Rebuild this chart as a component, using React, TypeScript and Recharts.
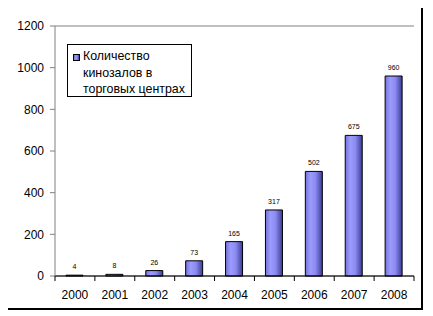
import React from "react";
import { BarChart, Bar, XAxis, YAxis, CartesianGrid, Legend, LabelList } from "recharts";

const years = ["2000", "2001", "2002", "2003", "2004", "2005", "2006", "2007", "2008"];
const cinemas = [4, 8, 26, 73, 165, 317, 502, 675, 960];
const yTicks = [0, 200, 400, 600, 800, 1000, 1200];
const seriesName = "Количество кинозалов в торговых центрах";
const legendLines = ["Количество", "кинозалов в", "торговых центрах"];

const data = years.map((y, i) => ({ year: y, value: cinemas[i] }));

const W = 433;
const H = 316;
const M = { top: 26, right: 19, bottom: 10, left: 5 };
const Y_W = 50;
const X_H = 30;
const PLOT_W = W - M.left - M.right - Y_W;
const FONT = "'Liberation Sans', Arial, sans-serif";

const XTick = (props: any) => {
  const { x, y, payload, index } = props;
  const band = PLOT_W / years.length;
  return (
    <g>
      <line x1={x - band / 2} x2={x - band / 2} y1={y} y2={y + 5} stroke="#000" />
      {index === years.length - 1 && (
        <line x1={x + band / 2} x2={x + band / 2} y1={y} y2={y + 5} stroke="#000" />
      )}
      <text x={x} y={y + 19} textAnchor="middle" dominantBaseline="central" fontSize={12} fontFamily={FONT} fill="#000">
        {payload.value}
      </text>
    </g>
  );
};

const LegendBox = () => (
  <div
    style={{
      border: "1px solid #000",
      background: "#fff",
      width: 125,
      height: 53,
      boxSizing: "border-box",
      position: "relative",
      fontFamily: FONT,
      fontSize: 12.4,
      color: "#000",
    }}
    title={seriesName}
  >
    <div
      style={{
        position: "absolute",
        left: 5,
        top: 9,
        width: 7,
        height: 7,
        border: "1px solid #000",
        background: "linear-gradient(to right, #7070d8, #9a9aff 35%, #8888ee 65%, #40409a)",
        boxSizing: "border-box",
      }}
    />
    <div style={{ position: "absolute", left: 15, top: 3, lineHeight: "16.5px", whiteSpace: "nowrap" }}>
      {legendLines.map((l) => (
        <div key={l}>{l}</div>
      ))}
    </div>
  </div>
);

export default function App() {
  return (
    <div style={{ position: "relative", left: -8, top: -8, width: W, height: H, background: "#fff" }}>
      <div
        style={{
          position: "absolute",
          left: 4,
          top: 4,
          width: 419,
          height: 306,
          border: "2px solid #000",
          boxSizing: "border-box",
          pointerEvents: "none",
        }}
      />
      <BarChart width={W} height={H} data={data} margin={M} barSize={17}>
        <defs>
          <linearGradient id="barGrad" x1="0" y1="0" x2="1" y2="0">
            <stop offset="0%" stopColor="#7272da" />
            <stop offset="30%" stopColor="#9c9cff" />
            <stop offset="60%" stopColor="#8a8af0" />
            <stop offset="100%" stopColor="#3c3c96" />
          </linearGradient>
        </defs>
        <CartesianGrid vertical={false} stroke="#808080" strokeDasharray="" />
        <XAxis
          dataKey="year"
          height={X_H}
          axisLine={{ stroke: "#000" }}
          tickLine={false}
          tickSize={0}
          tickMargin={0}
          tick={<XTick />}
          interval={0}
        />
        <YAxis
          yAxisId="left"
          width={Y_W}
          domain={[0, 1200]}
          ticks={yTicks}
          interval={0}
          axisLine={{ stroke: "#808080" }}
          tickLine={{ stroke: "#808080" }}
          tickSize={5}
          tickMargin={6}
          tick={{ fontSize: 12, fontFamily: FONT, fill: "#000" }}
        />
        <YAxis
          yAxisId="right"
          orientation="right"
          width={0}
          domain={[0, 1200]}
          tick={false}
          tickLine={false}
          axisLine={{ stroke: "#808080" }}
        />
        <Legend
          layout="horizontal"
          verticalAlign="middle"
          align="center"
          wrapperStyle={{ position: "absolute", left: 67, top: 44, width: "auto", height: "auto" }}
          content={() => <LegendBox />}
        />
        <Bar
          yAxisId="left"
          dataKey="value"
          name={seriesName}
          fill="url(#barGrad)"
          stroke="#000"
          strokeWidth={1}
          isAnimationActive={false}
        >
          <LabelList dataKey="value" position="top" offset={6} fontSize={7} fontFamily={FONT} fill="#000" />
        </Bar>
      </BarChart>
    </div>
  );
}
